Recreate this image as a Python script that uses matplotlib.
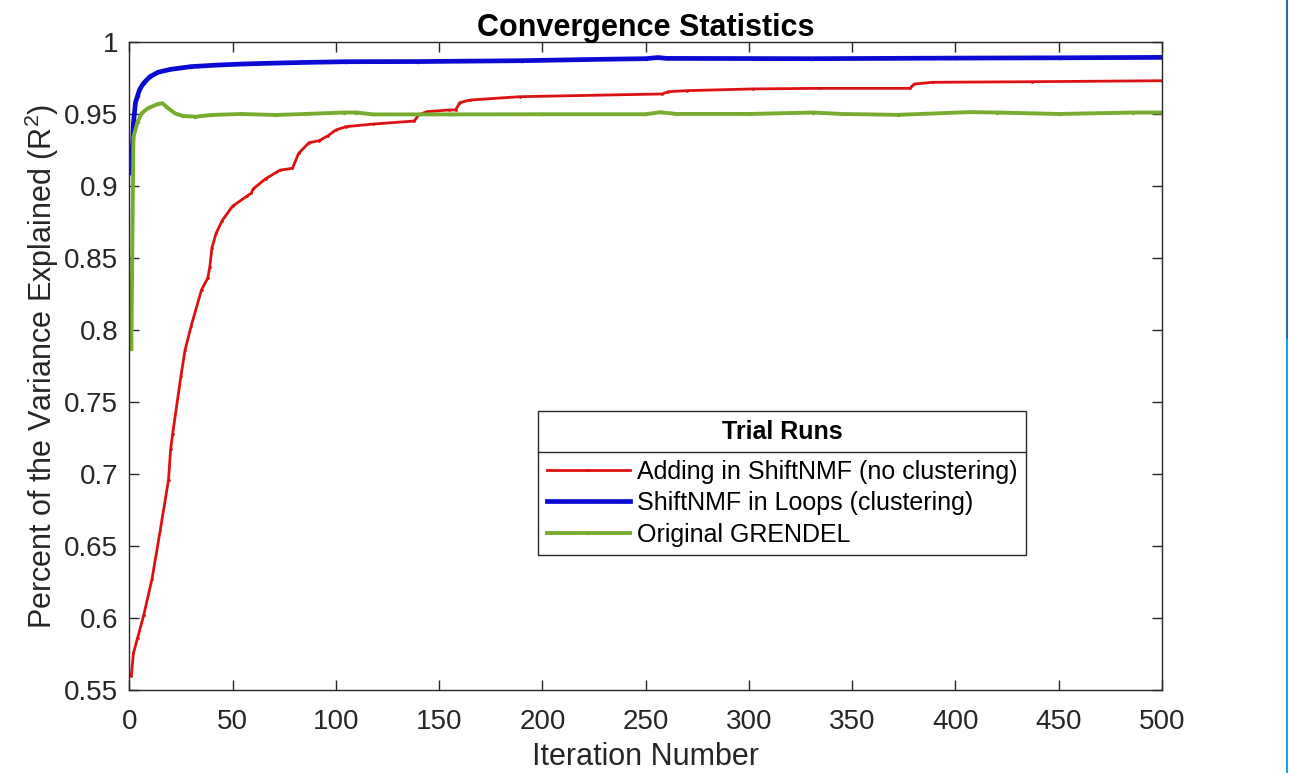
import numpy as np
import matplotlib
matplotlib.use('Agg')
import matplotlib.pyplot as plt
from matplotlib.lines import Line2D

plt.rcParams['font.family'] = ['Liberation Sans', 'DejaVu Sans']
plt.rcParams['mathtext.fontset'] = 'custom'
plt.rcParams['mathtext.rm'] = 'Liberation Sans'

# values
red_x = [1, 2, 4, 7, 11, 15, 19, 20, 21, 25, 27, 30, 35, 38, 39, 40, 42, 45, 50, 57,
         59, 60, 66, 73, 79, 82, 87, 92, 96, 100, 105, 118, 138, 140, 144, 155, 158, 160, 165, 189,
         258, 261, 270, 302, 334, 378, 380, 389, 437, 500]
red_y = [0.560, 0.5755, 0.586, 0.602, 0.627, 0.661, 0.696, 0.717, 0.728, 0.768,
         0.786, 0.803, 0.828, 0.836, 0.844, 0.857, 0.867, 0.876, 0.886, 0.893,
         0.895, 0.898, 0.905, 0.911, 0.9123, 0.9227, 0.930, 0.9315, 0.9347, 0.9389,
         0.9412, 0.943, 0.9451, 0.9493, 0.9516, 0.9528, 0.9528, 0.9579, 0.9597, 0.962,
         0.9639, 0.9655, 0.9662, 0.9674, 0.9678, 0.9678, 0.9708, 0.972, 0.9724, 0.9731]

blue_x = [1, 2, 3, 4, 5, 7, 10, 14, 20, 30, 43, 55, 67, 85, 105, 140, 190, 230, 250, 256,
          260, 330, 400, 450, 500]
blue_y = [0.909, 0.9435, 0.958, 0.9625, 0.967, 0.9715, 0.9759, 0.979, 0.981, 0.9829,
          0.984, 0.9847, 0.9852, 0.9858, 0.9863, 0.9864, 0.987, 0.988, 0.9884, 0.9892,
          0.9886, 0.9884, 0.9888, 0.989, 0.9893]

green_x = [1, 2, 4, 6, 9, 14, 16, 18, 22, 26, 32, 40, 54, 71, 85, 104, 110, 118, 155, 200,
           250, 257, 265, 300, 331, 345, 372, 407, 420, 450, 486, 500]
green_y = [0.787, 0.934, 0.9445, 0.9505, 0.954, 0.957, 0.9574, 0.955, 0.9505, 0.9486,
           0.9481, 0.9493, 0.950, 0.9493, 0.950, 0.951, 0.951, 0.9497, 0.9497, 0.9498,
           0.9498, 0.9512, 0.950, 0.950, 0.9510, 0.950, 0.9494, 0.9513, 0.951, 0.950,
           0.9510, 0.951]

labels = ['Adding in ShiftNMF (no clustering)', 'ShiftNMF in Loops (clustering)', 'Original GRENDEL']
xticks = [0, 50, 100, 150, 200, 250, 300, 350, 400, 450, 500]
yticks = [0.55, 0.6, 0.65, 0.7, 0.75, 0.8, 0.85, 0.9, 0.95, 1]
ytick_labels = ['0.55', '0.6', '0.65', '0.7', '0.75', '0.8', '0.85', '0.9', '0.95', '1']

fig = plt.figure(figsize=(12.89, 7.73), dpi=100)
ax = fig.add_axes([0.1003, 0.1074, 0.8012, 0.8383])

ax.plot(red_x, red_y, color='#dd1111', lw=2.0, marker='.', markersize=2, label=labels[0])
ax.plot(blue_x, blue_y, color='#0a0ad2', lw=3.4, marker='.', markersize=3, label=labels[1])
ax.plot(green_x, green_y, color='#77ac30', lw=2.8, marker='.', markersize=3, label=labels[2])

ax.set_xlim(0, 500)
ax.set_ylim(0.55, 1)
ax.set_xticks(xticks)
ax.set_yticks(yticks)
ax.set_yticklabels(ytick_labels)
ax.tick_params(direction='in', length=7, width=1, colors='#262626', labelsize=20,
               top=True, right=True)
ax.tick_params(axis='x', pad=14)
ax.tick_params(axis='y', pad=8)
for s in ax.spines.values():
    s.set_color('#262626')
    s.set_linewidth(1.0)

ax.set_xlabel('Iteration Number', fontsize=22, color='#262626', labelpad=5)
ax.set_ylabel('Percent of the Variance Explained (R$\\mathregular{^2}$)', fontsize=22,
              color='#262626', labelpad=2)
ax.set_title('Convergence Statistics', fontsize=22, fontweight='bold', pad=4)

leg = ax.legend(loc='upper left', bbox_to_anchor=(0.396, 0.4306), borderaxespad=0,
                fontsize=18, title='Trial Runs', title_fontproperties={'weight': 'bold', 'size': 18},
                fancybox=False, edgecolor='#262626', framealpha=1, borderpad=0.35,
                labelspacing=0.3, handlelength=3.3, handletextpad=0.3)
leg.get_frame().set_linewidth(1.0)
# a bit more room between the legend title and its entries
leg._legend_box.sep = 18 * 0.3 + 6

# separator line between legend title and entries
fig.canvas.draw()
r = fig.canvas.get_renderer()
lb = leg.get_frame().get_window_extent(r)
tb = leg.get_title().get_window_extent(r)
eb = leg.get_texts()[0].get_window_extent(r)
ysep = (tb.y0 + eb.y1) / 2 / fig.bbox.height
fig.add_artist(Line2D([lb.x0 / fig.bbox.width, lb.x1 / fig.bbox.width], [ysep, ysep],
                      transform=fig.transFigure, color='#262626', lw=1.0))

# thin border at the right of the screenshot
fig.add_artist(Line2D([0.9981, 0.9981], [1, 0.56], transform=fig.transFigure, color='#2e6da4', lw=1.5))
fig.add_artist(Line2D([0.9981, 0.9981], [0.56, 0], transform=fig.transFigure, color='#1aa3e0', lw=1.5))

fig.savefig('out.png', dpi=100)
